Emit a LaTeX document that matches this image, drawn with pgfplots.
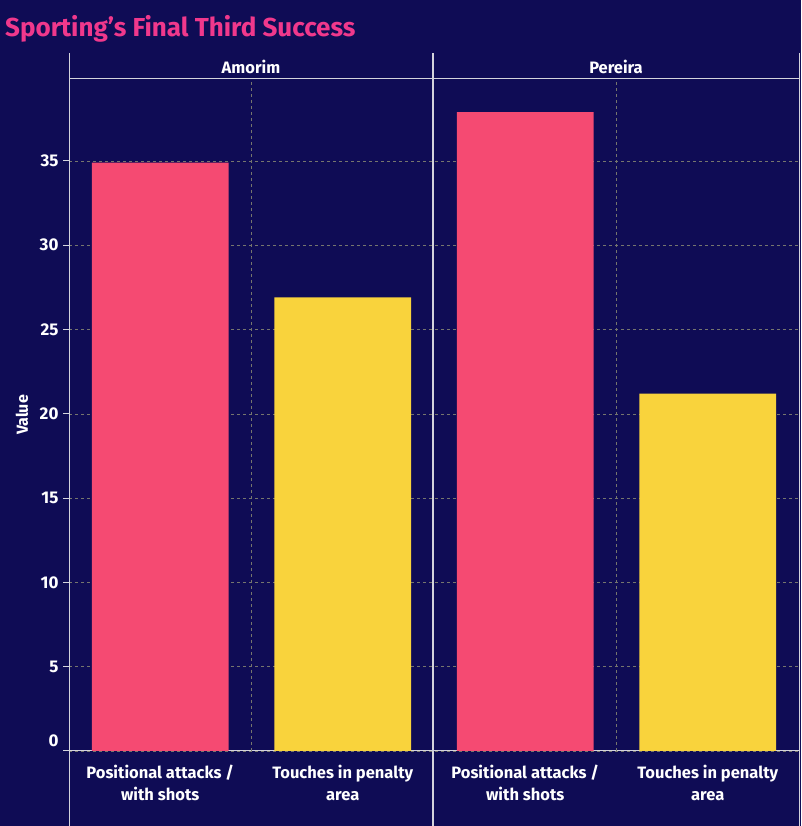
\documentclass[border=0pt]{standalone}
\usepackage{fontspec}
\setmainfont{Fira Sans}
\usepackage{pgfplots}
\pgfplotsset{compat=1.18}
\definecolor{bg}{HTML}{0F0C55}
\definecolor{pinkbar}{HTML}{F54A72}
\definecolor{yellowbar}{HTML}{F9D33C}
\definecolor{titlepink}{HTML}{F0388C}
\definecolor{framec}{HTML}{D4D4DC}
\definecolor{gridc}{HTML}{76766E}
\begin{document}
\begin{tikzpicture}[x=1pt,y=1pt]
\fill[bg] (0,0) rectangle (801,826);
\begin{axis}[
  at={(69pt,75pt)}, anchor=south west,
  scale only axis, width=730pt, height=672pt,
  xmin=0, xmax=4, ymin=0, ymax=39.86,
  ybar, bar width=0.75,
  axis line style={framec, line width=1pt},
  xtick={0.5,1.5,2.5,3.5},
  xticklabels={{Positional attacks /\\with shots},{Touches in penalty\\area},{Positional attacks /\\with shots},{Touches in penalty\\area}},
  xticklabel style={align=center, font=\bfseries\fontsize{16.5}{22}\selectfont, text=white, yshift=-5pt},
  x tick style={draw=none},
  xtick pos=left,
  ytick={0,5,...,35},
  yticklabels={\raisebox{21pt}{0},5,10,15,20,25,30,35},
  ytick pos=left,
  tick align=outside,
  major tick length=6pt,
  y tick style={framec, line width=1pt},
  yticklabel style={font=\bfseries\fontsize{17}{18}\selectfont, text=white, xshift=-1pt},
  ymajorgrids,
  grid style={gridc, dashed, line width=0.6pt},
  extra x ticks={1,3},
  extra x tick labels={},
  extra x tick style={grid=major, tick style={draw=framec, line width=1pt}},
]
\addplot[fill=pinkbar, draw=none, bar shift=0pt] coordinates {(0.5,34.9) (2.5,37.9)};
\addplot[fill=yellowbar, draw=none, bar shift=0pt] coordinates {(1.5,26.9) (3.5,21.2)};
\end{axis}
\draw[framec, line width=1pt] (69,0) -- (69,773);
\draw[framec, line width=1.5pt] (433,0) -- (433,773);
\draw[framec, line width=1pt] (799,0) -- (799,773);
\node[white, font=\bfseries\fontsize{16.5}{16}\selectfont] at (251,759) {Amorim};
\node[white, font=\bfseries\fontsize{16.5}{16}\selectfont] at (616,759) {Pereira};
\node[anchor=west, titlepink, font=\bfseries\fontsize{26}{28}\selectfont, inner sep=0pt] at (5,797) {Sporting’s Final Third Success};
\node[rotate=90, white, font=\bfseries\fontsize{16}{16}\selectfont] at (22,411) {Value};
\pgfresetboundingbox
\path (0,0) rectangle (801,826);
\end{tikzpicture}
\end{document}
